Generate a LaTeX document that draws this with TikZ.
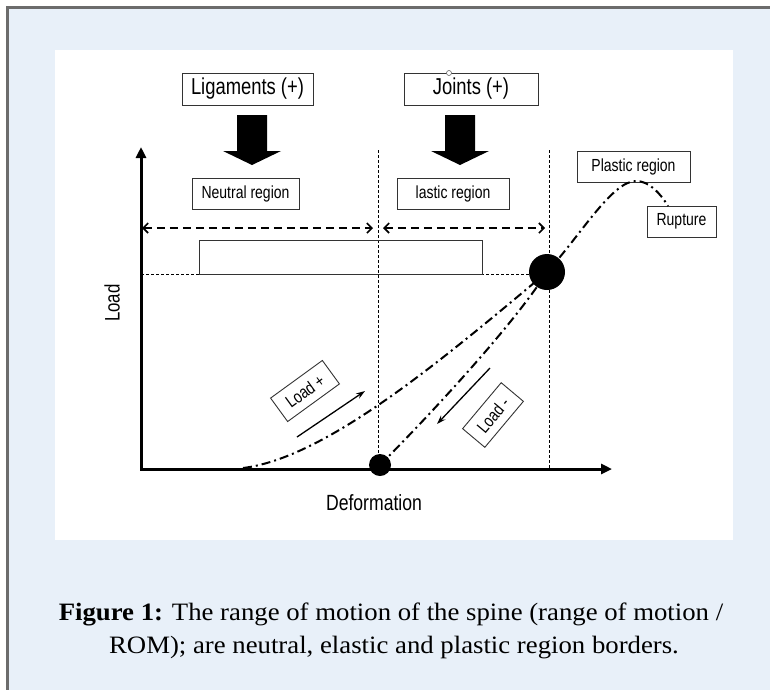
\documentclass[tikz,border=0pt]{standalone}
\usepackage{fontspec}
\setmainfont{Liberation Serif}
\newfontfamily\cond[FakeStretch=0.8]{Liberation Sans}
\newfontfamily\capfont[FakeStretch=1.07]{Liberation Serif}
\usetikzlibrary{arrows.meta}
\definecolor{bgblue}{RGB}{232,240,249}
\definecolor{framegray}{RGB}{108,108,108}
\begin{document}
\begin{tikzpicture}[x=1pt,y=-1pt,
  box/.style={draw=black!80, line width=0.9pt, inner sep=0pt, anchor=center},
  regionlbl/.style={box, minimum height=31pt, font=\cond\fontsize{17.5}{20}\selectfont},
  toplbl/.style={box, minimum height=32pt, font=\cond\fontsize{23}{26}\selectfont},
  dashdot/.style={line width=2pt, dash pattern=on 9pt off 4pt on 2pt off 4pt},
  guide/.style={line width=0.9pt, dash pattern=on 3pt off 2pt},
  rangearrow/.style={line width=2pt, dash pattern=on 8pt off 5pt, {Straight Barb[length=5pt,width=10pt,line width=1.6pt]}-{Straight Barb[length=5pt,width=10pt,line width=1.6pt]}},
  axisline/.style={line width=3pt, {Triangle[length=11pt,width=10pt]}-{Triangle[length=11pt,width=10pt]}},
  thinarrow/.style={line width=1.3pt, -{Stealth[length=9pt,width=6pt]}},
  dot/.style={circle, fill=black, inner sep=0pt},
  blockarrow/.style={fill=black}
]
\useasboundingbox (0,0) rectangle (770,689);
% frame and panel
\draw[framegray, line width=2.5pt, fill=bgblue] (7.5,7.5) rectangle (800,720);
\fill[white] (55,50) rectangle (733,540);

% top labels
\node[toplbl, minimum width=131pt] (lig) at (247.5,89) {Ligaments (+)};
\node[toplbl, minimum width=134pt] (joi) at (471,89) {Joints (+)};
\draw[black!60, fill=white, line width=0.6pt] (449,73) circle (2.5pt);

% block arrows
\fill[blockarrow] (237,115) -- (267,115) -- (267,151) -- (281,151) -- (252,165) -- (223,151) -- (237,151) -- cycle;
\fill[blockarrow] (445,115) -- (475,115) -- (475,151) -- (489,151) -- (460,165) -- (431,151) -- (445,151) -- cycle;

% region labels
\node[regionlbl, minimum width=107pt] (neu) at (245.5,193.5) {Neutral region};
\node[regionlbl, minimum width=112pt] (ela) at (453,193.5) {lastic region};
\node[regionlbl, minimum width=113pt] (pla) at (633.5,166.5) {Plastic region};
\node[regionlbl, minimum width=69pt] (rup) at (681.5,221.5) {Rupture};

% coordinates
\coordinate (org) at (141,469);
\coordinate (ytop) at (141,147);
\coordinate (xend) at (612,469);
\coordinate (v1t) at (378,150);
\coordinate (v1b) at (378,469);
\coordinate (v2t) at (549,150);
\coordinate (v2b) at (549,469);
\coordinate (r1a) at (142,228);
\coordinate (r1b) at (373,228);
\coordinate (r2a) at (383,228);
\coordinate (r2b) at (545,228);
\coordinate (hl) at (141,274);
\coordinate (hr) at (532,274);
\coordinate (bigc) at (547,272);
\coordinate (smc) at (380,465);
\coordinate (cst) at (243,468);
\coordinate (peak) at (636,181);
\coordinate (rupt) at (668,206);
\coordinate (lpa) at (297,437);
\coordinate (lpb) at (365,391);
\coordinate (lma) at (490,368);
\coordinate (lmb) at (437,424);

% guides
\draw[guide] (v1t) -- (v1b);
\draw[guide] (v2t) -- (v2b);
\draw[guide] (hl) -- (hr);

% empty rectangle
\node[draw=black!80, line width=0.9pt, minimum width=283pt, minimum height=34pt, inner sep=0pt] (bar) at (340.5,257) {};

% range arrows
\draw[rangearrow] (r1a) -- (r1b);
\draw[rangearrow] (r2a) -- (r2b);

% axes
\draw[axisline] (ytop) |- (xend);

% curves
\draw[dashdot] (cst) .. controls (325,458) and (440,362) .. (bigc);
\draw[dashdot] (bigc) .. controls (580,236) and (612,181) .. (peak) .. controls (649,181) and (660,193) .. (rupt);
\draw[dashdot] (smc) .. controls (420,425) and (510,330) .. (bigc);

% dots
\node[dot, minimum size=36pt] (big) at (bigc) {};
\node[dot, minimum size=22pt] (small) at (smc) {};

% load arrows and labels
\draw[thinarrow] (lpa) -- (lpb);
\draw[thinarrow] (lma) -- (lmb);
\node[box, rotate=36, minimum width=64pt, minimum height=29pt, font=\cond\fontsize{17.5}{20}\selectfont] (lplus) at (305,391) {Load +};
\node[box, rotate=50, minimum width=60pt, minimum height=29pt, font=\cond\fontsize{17.5}{20}\selectfont] (lminus) at (493,415) {Load -};

% axis labels
\node[rotate=90, font=\cond\fontsize{21}{24}\selectfont] (ylab) at (112,303) {Load};
\node[font=\cond\fontsize{22}{26}\selectfont] (xlab) at (374,503) {Deformation};

% caption
\node[anchor=base, font=\capfont\fontsize{25}{30}\selectfont] (cap1) at (391,620) {\textbf{Figure 1:} The range of motion of the spine (range of motion /};
\node[anchor=base, font=\capfont\fontsize{25}{30}\selectfont] (cap2) at (394,653) {ROM); are neutral, elastic and plastic region borders.};
\end{tikzpicture}
\end{document}
